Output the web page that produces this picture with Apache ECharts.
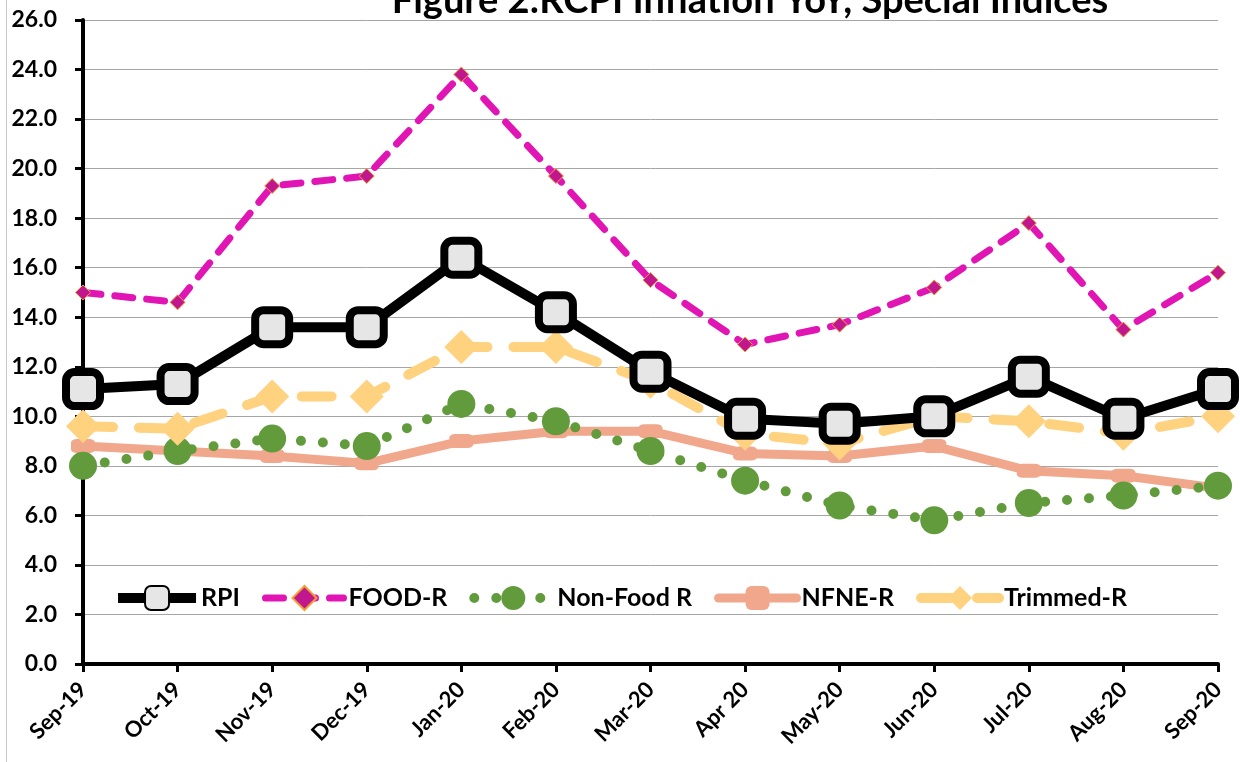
<!DOCTYPE html>
<html>
<head>
<meta charset="utf-8">
<script src="https://cdn.jsdelivr.net/npm/echarts@6/dist/echarts.min.js"></script>
<style>
  html, body { margin: 0; padding: 0; background: #fff; }
  #chart { width: 1240px; height: 762px; }
</style>
</head>
<body>
<div id="chart"></div>
<script>
// categories
const months = ['Sep-19', 'Oct-19', 'Nov-19', 'Dec-19', 'Jan-20', 'Feb-20', 'Mar-20', 'Apr 20', 'May-20', 'Jun-20', 'Jul-20', 'Aug-20', 'Sep-20']

// series values (% yoy)
const rpi = [11.1, 11.3, 13.6, 13.6, 16.4, 14.2, 11.8, 9.9, 9.7, 10.0, 11.6, 9.9, 11.1]
const foodR = [15.0, 14.6, 19.3, 19.7, 23.8, 19.7, 15.5, 12.9, 13.7, 15.2, 17.8, 13.5, 15.8]
const nonFoodR = [8.0, 8.6, 9.1, 8.8, 10.5, 9.8, 8.6, 7.4, 6.4, 5.8, 6.5, 6.8, 7.2]
const nfneR = [8.8, 8.6, 8.4, 8.1, 9.0, 9.4, 9.4, 8.5, 8.4, 8.8, 7.8, 7.6, 7.1]
const trimmedR = [9.6, 9.5, 10.8, 10.8, 12.8, 12.8, 11.4, 9.3, 8.9, 10.0, 9.8, 9.3, 10.0]

const titleText = 'Figure 2:RCPI Inflation YoY, Special Indices'
const font = 'Lato, "Open Sans", sans-serif'

const dom = document.getElementById('chart')
const myChart = echarts.init(dom)

const option = {
  animation: false,
  backgroundColor: '#fff',
  title: {
    text: titleText,
    left: 745,
    textAlign: 'center',
    top: -23,
    textStyle: {
      fontFamily: font,
      fontWeight: 'bold',
      fontSize: 38,
      color: '#000'
    }
  },
  graphic: [
    {
      type: 'line',
      shape: { x1: 6.5, y1: 0, x2: 6.5, y2: 762 },
      style: { stroke: '#c8c8c8', lineWidth: 1 }
    }
  ],
  legend: {
    data: ['RPI', 'FOOD-R', 'Non-Food R', 'NFNE-R', 'Trimmed-R'],
    top: 580,
    left: 'center',
    itemWidth: 78,
    itemHeight: 30,
    itemGap: 22,
    lineStyle: { width: 'inherit', type: 'inherit' },
    textStyle: {
      fontFamily: font,
      fontWeight: 'bold',
      fontSize: 25,
      color: '#000'
    }
  },
  grid: {
    left: 83,
    right: 22,
    top: 20,
    bottom: 98,
    containLabel: false
  },
  xAxis: {
    type: 'category',
    boundaryGap: false,
    data: months,
    axisLine: { lineStyle: { color: '#000', width: 4 } },
    axisTick: { show: true, alignWithLabel: true, length: 8, lineStyle: { color: '#000', width: 3 } },
    axisLabel: {
      rotate: 45,
      margin: 22,
      interval: 0,
      fontFamily: font,
      fontWeight: 'bold',
      fontSize: 22,
      color: '#000'
    },
    splitLine: { show: false }
  },
  yAxis: {
    type: 'value',
    min: 0,
    max: 26,
    interval: 2,
    axisLine: { show: true, lineStyle: { color: '#000', width: 4 } },
    axisTick: { show: true, length: 8, lineStyle: { color: '#000', width: 3 } },
    axisLabel: {
      margin: 26,
      fontFamily: font,
      fontWeight: 'bold',
      fontSize: 23,
      color: '#000',
      formatter: v => v.toFixed(1)
    },
    splitLine: { show: true, lineStyle: { color: '#a6a6a6', width: 1 } }
  },
  series: [
    {
      name: 'NFNE-R',
      type: 'line',
      data: nfneR,
      z: 2,
      symbol: 'roundRect',
      symbolSize: [24, 14],
      lineStyle: { color: '#f1a78b', width: 9, cap: 'round', join: 'round' },
      itemStyle: { color: '#f1a78b', borderWidth: 0 }
    },
    {
      name: 'Non-Food R',
      type: 'line',
      data: nonFoodR,
      z: 3,
      symbol: 'circle',
      symbolSize: 28,
      lineStyle: { color: '#629b3c', width: 10, type: [0, 22], cap: 'round' },
      itemStyle: { color: '#629b3c', borderWidth: 0 }
    },
    {
      name: 'Trimmed-R',
      type: 'line',
      data: trimmedR,
      z: 4,
      symbol: 'diamond',
      symbolSize: 34,
      lineStyle: { color: '#ffd280', width: 10, type: [30, 26], cap: 'round' },
      itemStyle: { color: '#ffd280', borderWidth: 0 }
    },
    {
      name: 'FOOD-R',
      type: 'line',
      data: foodR,
      z: 5,
      symbol: 'diamond',
      symbolSize: 15,
      lineStyle: { color: '#e114b4', width: 7, type: [18, 14], cap: 'round' },
      itemStyle: { color: '#c0178f', borderColor: '#f2a032', borderWidth: 1 }
    },
    {
      name: 'RPI',
      type: 'line',
      data: rpi,
      z: 6,
      symbol: 'roundRect',
      symbolSize: 34,
      lineStyle: { color: '#000', width: 10, join: 'round' },
      itemStyle: { color: '#e6e6e6', borderColor: '#000', borderWidth: 8 }
    }
  ]
}

myChart.setOption(option, true)
window.addEventListener('resize', () => {
  myChart.resize()
})
</script>
</body>
</html>
